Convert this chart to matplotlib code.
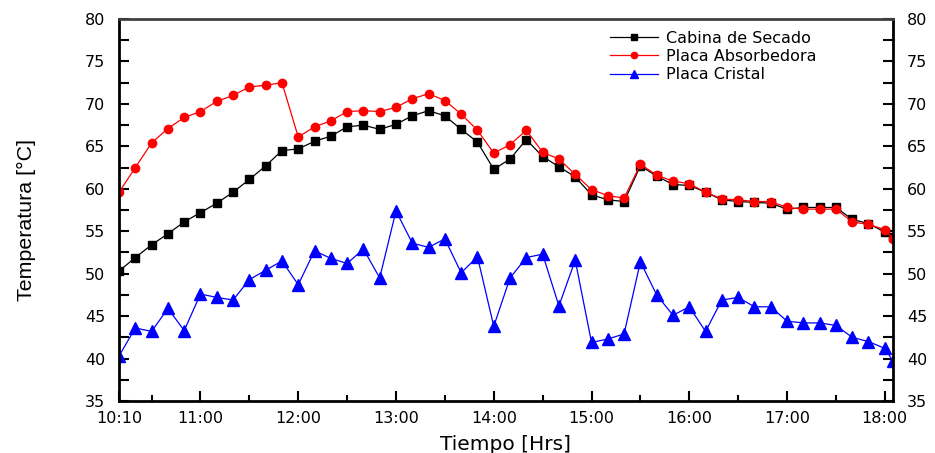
import matplotlib.pyplot as plt
import matplotlib.ticker as mticker

times = ['10:10', '10:20', '10:30', '10:40', '10:50', '11:00', '11:10', '11:20', '11:30', '11:40',
         '11:50', '12:00', '12:10', '12:20', '12:30', '12:40', '12:50', '13:00', '13:10', '13:20',
         '13:30', '13:40', '13:50', '14:00', '14:10', '14:20', '14:30', '14:40', '14:50', '15:00',
         '15:10', '15:20', '15:30', '15:40', '15:50', '16:00', '16:10', '16:20', '16:30', '16:40',
         '16:50', '17:00', '17:10', '17:20', '17:30', '17:40', '17:50', '18:00', '18:05']

cabina = [50.3, 51.9, 53.4, 54.7, 56.1, 57.2, 58.3, 59.6, 61.1, 62.7,
          64.5, 64.7, 65.6, 66.2, 67.3, 67.5, 67.0, 67.6, 68.6, 69.2,
          68.6, 67.0, 65.5, 62.3, 63.5, 65.8, 63.8, 62.6, 61.4, 59.3,
          58.7, 58.5, 62.7, 61.5, 60.5, 60.4, 59.6, 58.7, 58.5, 58.4,
          58.3, 57.6, 57.8, 57.8, 57.8, 56.4, 55.9, 54.9, 54.3]

absorbedora = [59.6, 62.5, 65.4, 67.1, 68.4, 69.1, 70.3, 71.0, 72.0, 72.2,
               72.5, 66.1, 67.3, 68.0, 69.1, 69.2, 69.1, 69.6, 70.6, 71.2,
               70.4, 68.8, 66.9, 64.2, 65.2, 66.9, 64.3, 63.5, 61.7, 59.9,
               59.2, 58.9, 62.9, 61.6, 60.9, 60.6, 59.6, 58.8, 58.7, 58.5,
               58.5, 57.8, 57.6, 57.6, 57.6, 56.1, 55.8, 55.2, 54.1]

cristal = [40.3, 43.6, 43.2, 45.9, 43.3, 47.6, 47.2, 46.9, 49.3, 50.4,
           51.5, 48.7, 52.7, 51.8, 51.2, 52.9, 49.5, 57.4, 53.6, 53.1,
           54.1, 50.1, 52.0, 43.8, 49.5, 51.9, 52.3, 46.2, 51.6, 41.9,
           42.3, 42.9, 51.4, 47.5, 45.1, 46.1, 43.2, 46.9, 47.2, 46.1,
           46.1, 44.4, 44.2, 44.2, 43.9, 42.5, 42.0, 41.2, 39.7]

xtick_labels = ['10:10', '11:00', '12:00', '13:00', '14:00', '15:00', '16:00', '17:00', '18:00']


def to_hours(s):
    h, m = s.split(':')
    return int(h) + int(m) / 60


x = [to_hours(t) for t in times]
xticks = [to_hours(t) for t in xtick_labels]

plt.rcParams['font.family'] = ['DejaVu Sans']

fig = plt.figure(figsize=(9.35, 4.53), dpi=100)
ax = fig.add_axes([0.1273, 0.1148, 0.8277, 0.8432])

ax.plot(x, cabina, '-s', color='black', lw=0.9, ms=6, label='Cabina de Secado')
ax.plot(x, absorbedora, '-o', color='red', lw=0.9, ms=6, label='Placa Absorbedora')
ax.plot(x, cristal, '-^', color='blue', lw=0.9, ms=8, label='Placa Cristal')

ax.set_xlim(x[0], x[-1])
ax.set_ylim(35, 80)
ax.set_xticks(xticks)
ax.set_xticklabels(xtick_labels)
ax.xaxis.set_minor_locator(mticker.FixedLocator([10.5 + i for i in range(8)]))
ax.yaxis.set_major_locator(mticker.MultipleLocator(5))
ax.yaxis.set_minor_locator(mticker.MultipleLocator(2.5))

ax.tick_params(axis='both', which='both', direction='in', labelsize=11.5, width=1.5)
ax.tick_params(axis='y', which='both', right=True, labelright=True, length=7, pad=10)
ax.tick_params(axis='x', which='major', length=7, pad=7)
ax.tick_params(axis='x', which='minor', length=4)

for side in ax.spines.values():
    side.set_linewidth(2)
ax.spines['top'].set_color('#404040')

ax.set_xlabel('Tiempo [Hrs]', fontsize=14.5, va='center')
ax.xaxis.set_label_coords(0.5, -0.1126)
ax.set_ylabel('Temperatura [°C]', fontsize=15.4, va='center',
              family=['Liberation Sans Narrow', 'Liberation Sans', 'DejaVu Sans'])
ax.yaxis.set_label_coords(-0.119, 0.474)

ax.legend(loc='upper left', frameon=False, fontsize=11.5, handlelength=3.0,
          handletextpad=0.5, labelspacing=0.2, borderpad=0, borderaxespad=0,
          markerscale=0.75, bbox_to_anchor=(0.634, 0.969))

plt.savefig('out.png', dpi=100)
